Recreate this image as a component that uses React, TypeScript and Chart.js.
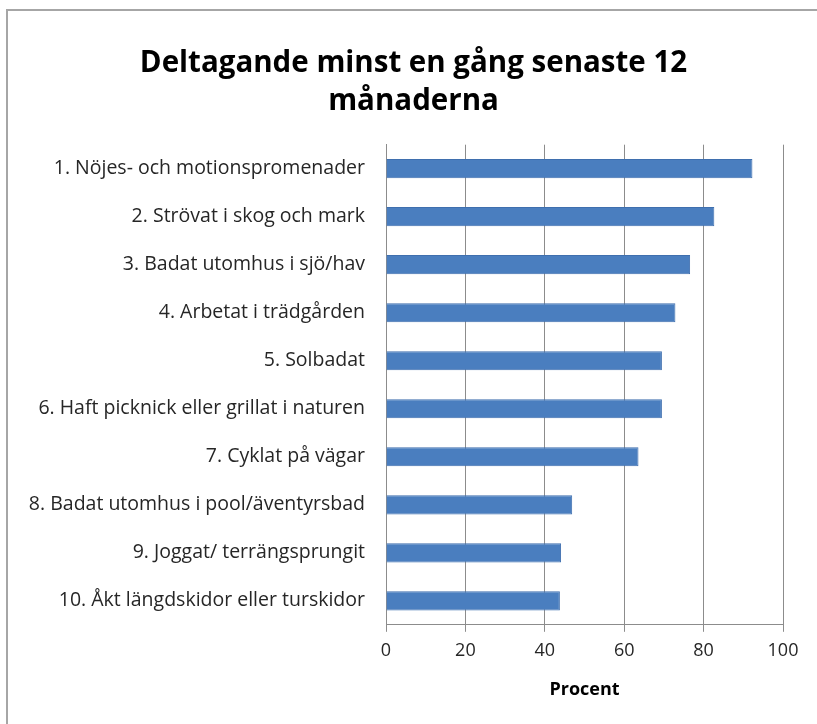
import React, { useEffect, useRef } from "react";
import { Chart, registerables } from "chart.js";

Chart.register(...registerables);

const titleLines = ["Deltagande minst en gång senaste 12", "månaderna"];
const categories = [
  "1. Nöjes- och motionspromenader",
  "2. Strövat i skog och mark",
  "3. Badat utomhus i sjö/hav",
  "4. Arbetat i trädgården",
  "5. Solbadat",
  "6. Haft picknick eller grillat i naturen",
  "7. Cyklat på vägar",
  "8. Badat utomhus i pool/äventyrsbad",
  "9. Joggat/ terrängsprungit",
  "10. Åkt längdskidor eller turskidor",
];
const values = [92.3, 82.7, 76.6, 72.9, 69.5, 69.5, 63.6, 46.9, 44.1, 43.8];
const xTicks = [0, 20, 40, 60, 80, 100];
const xTitle = "Procent";

const FONT = "'Open Sans', 'Noto Sans', sans-serif";

export default function App() {
  const ref = useRef<HTMLCanvasElement | null>(null);
  useEffect(() => {
    if (!ref.current) return;
    const chart = new Chart(ref.current, {
      type: "bar",
      data: {
        labels: categories,
        datasets: [
          {
            data: values,
            backgroundColor: "#4a7ebf",
            borderColor: "#3f6fae",
            borderWidth: 1,
            barPercentage: 0.8,
            categoryPercentage: 0.5,
          },
        ],
      },
      options: {
        indexAxis: "y",
        responsive: false,
        animation: false,
        maintainAspectRatio: false,
        layout: { padding: { left: 14, right: 4, top: 0, bottom: 23 } },
        plugins: {
          legend: { display: false },
          tooltip: { enabled: false },
          title: {
            display: true,
            text: titleLines,
            color: "#000000",
            font: { family: FONT, size: 29.5, weight: "bold", lineHeight: 1.3 },
            padding: { top: 44, bottom: 24 },
          },
        },
        scales: {
          x: {
            min: 0,
            max: 100,
            afterBuildTicks: (scale: any) => {
              scale.ticks = xTicks.map((v) => ({ value: v }));
            },
            grid: {
              color: "#8c8c8c",
              lineWidth: 1,
              drawTicks: true,
              tickLength: 7,
              tickColor: "#8c8c8c",
            },
            border: { color: "#8c8c8c" },
            ticks: {
              color: "#262626",
              font: { family: FONT, size: 18, lineHeight: 1.2 },
              padding: 8,
              maxRotation: 0,
            },
            title: {
              display: true,
              text: xTitle,
              color: "#000000",
              font: { family: FONT, size: 18, weight: "bold", lineHeight: 1.2 },
              padding: { top: 10, bottom: 0 },
            },
          },
          y: {
            afterFit: (scale: any) => {
              scale.width = 372;
            },
            grid: { display: false, drawTicks: false },
            border: { color: "#8c8c8c" },
            ticks: {
              color: "#262626",
              font: { family: FONT, size: 19.5 },
              padding: 21,
              autoSkip: false,
            },
          },
          yRight: {
            position: "right",
            display: true,
            afterFit: (scale: any) => {
              scale.width = 30;
            },
            grid: { display: false, drawTicks: false },
            border: { display: false },
            ticks: { display: false },
          },
        },
      },
    });
    return () => chart.destroy();
  }, []);

  return (
    <div
      style={{
        position: "fixed",
        left: 0,
        top: 0,
        width: 817,
        height: 724,
        overflow: "hidden",
        background: "#ffffff",
      }}
    >
      <div
        style={{
          position: "absolute",
          left: 6,
          top: 9,
          width: 840,
          height: 760,
          borderTop: "2px solid #a6a6a6",
          borderLeft: "2px solid #a6a6a6",
        }}
      />
      <canvas
        ref={ref}
        width={817}
        height={724}
        style={{ position: "absolute", left: 0, top: 0, width: 817, height: 724 }}
      />
    </div>
  );
}
